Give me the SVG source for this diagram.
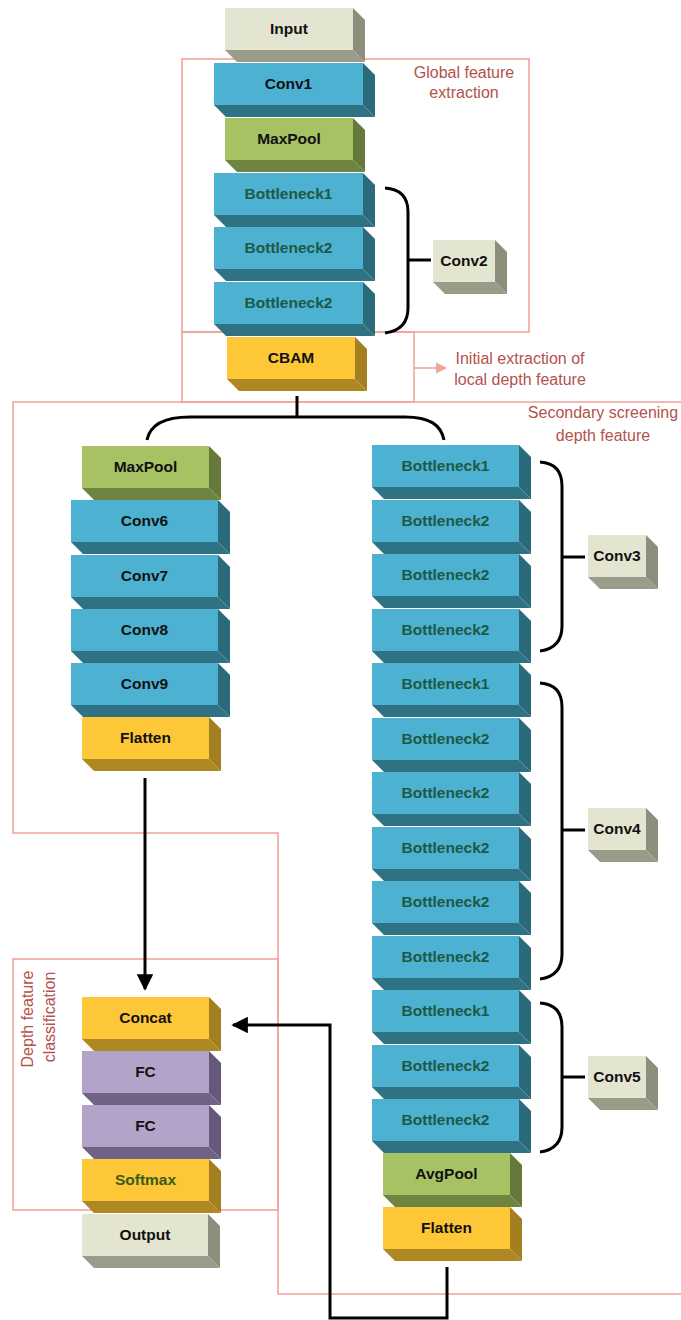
<svg xmlns="http://www.w3.org/2000/svg" width="681" height="1320" viewBox="0 0 681 1320">
<style>
  .blue .f{fill:#4db1d1}.blue .s{fill:#2b6a7b}.blue .b{fill:#2f7283}
  .green .f{fill:#a6c263}.green .s{fill:#66793a}.green .b{fill:#6f8440}
  .yellow .f{fill:#fdc737}.yellow .s{fill:#a47f1f}.yellow .b{fill:#ae8822}
  .beige .f{fill:#e3e5d0}.beige .s{fill:#8d8e7c}.beige .b{fill:#9a9b88}
  .purple .f{fill:#b3a3c8}.purple .s{fill:#66587a}.purple .b{fill:#706284}
  text{font-family:"Liberation Sans",Arial,sans-serif}
  .t{font-size:15.5px;font-weight:bold;text-anchor:middle;fill:#111}
  .tg{font-size:15.5px;font-weight:bold;text-anchor:middle;fill:#1d5a45}
  .ts{font-size:15.5px;font-weight:bold;text-anchor:middle;fill:#3a5a1c}
  .lbl{font-size:16px;text-anchor:middle;fill:#b4524c}
  .pink{fill:none;stroke:#f2a39a;stroke-width:1.6}
  .con{fill:none;stroke:#000;stroke-width:3}
</style>
<defs>
  <marker id="ah" viewBox="0 0 10 10" refX="9" refY="5" markerWidth="5.5" markerHeight="5.5" orient="auto" markerUnits="strokeWidth">
    <path d="M0,0 L10,5 L0,10 z" fill="#000"/>
  </marker>
  <marker id="ahp" viewBox="0 0 10 10" refX="9" refY="5" markerWidth="7" markerHeight="7" orient="auto" markerUnits="strokeWidth">
    <path d="M0,0 L10,5 L0,10 z" fill="#f2a39a"/>
  </marker>
</defs>

<g id="regions">
  <rect class="pink" x="182" y="59" width="347" height="273"/>
  <rect class="pink" x="182" y="332" width="232" height="70"/>
  <path class="pink" d="M683,402 H13 V833 H278 V1294 H683"/>
  <rect class="pink" x="13" y="959" width="265" height="251"/>
  <line x1="414" y1="368" x2="446" y2="368" stroke="#f2a39a" stroke-width="1.6" marker-end="url(#ahp)"/>
  <text class="lbl" x="464" y="78">Global feature</text>
  <text class="lbl" x="464" y="98">extraction</text>
  <text class="lbl" x="520" y="364">Initial extraction of</text>
  <text class="lbl" x="520" y="385">local depth feature</text>
  <text class="lbl" x="603" y="418">Secondary screening</text>
  <text class="lbl" x="603" y="441">depth feature</text>
  <text class="lbl" transform="translate(33,1019) rotate(-90)">Depth feature</text>
  <text class="lbl" transform="translate(55,1017) rotate(-90)">classification</text>
</g>

<g id="connectors">
  <path class="con" d="M297,396 V417"/>
  <path class="con" d="M147,440 C150,425 165,417 190,417 H405 C430,417 441,425 444,440"/>
  <path class="con" d="M145,778 V989" marker-end="url(#ah)"/>
  <path class="con" d="M447,1267 V1318 H330 V1025 H233" marker-end="url(#ah)"/>
  <path class="con" d="M385,188 C400,189 408,197 408,212 V308 C408,323 400,331 385,333 M408,260 H431"/>
  <path class="con" d="M540,462 C555,463 562,471 562,486 V626 C562,641 555,649 540,651 M562,557 H585"/>
  <path class="con" d="M540,683 C555,684 562,692 562,707 V954 C562,969 555,977 540,979 M562,830 H585"/>
  <path class="con" d="M540,1003 C555,1004 562,1012 562,1027 V1127 C562,1142 555,1150 540,1152 M562,1077 H585"/>
</g>

<g id="n-input" class="beige"><rect class="f" x="225" y="8" width="128" height="42"/><polygon class="s" points="353,8 365,20 365,62 353,50"/><polygon class="b" points="225,50 353,50 365,62 237,62"/><text class="t" x="289" y="34">Input</text></g>
<g id="n-conv1" class="blue"><rect class="f" x="214" y="63" width="149" height="42"/><polygon class="s" points="363,63 375,75 375,117 363,105"/><polygon class="b" points="214,105 363,105 375,117 226,117"/><text class="t" x="288.5" y="89">Conv1</text></g>
<g id="n-maxpool1" class="green"><rect class="f" x="225" y="118" width="128" height="42"/><polygon class="s" points="353,118 365,130 365,172 353,160"/><polygon class="b" points="225,160 353,160 365,172 237,172"/><text class="t" x="289" y="144">MaxPool</text></g>
<g id="n-c2b1" class="blue"><rect class="f" x="214" y="173" width="149" height="42"/><polygon class="s" points="363,173 375,185 375,227 363,215"/><polygon class="b" points="214,215 363,215 375,227 226,227"/><text class="tg" x="288.5" y="199">Bottleneck1</text></g>
<g id="n-c2b2" class="blue"><rect class="f" x="214" y="227" width="149" height="42"/><polygon class="s" points="363,227 375,239 375,281 363,269"/><polygon class="b" points="214,269 363,269 375,281 226,281"/><text class="tg" x="288.5" y="253">Bottleneck2</text></g>
<g id="n-c2b3" class="blue"><rect class="f" x="214" y="282" width="149" height="42"/><polygon class="s" points="363,282 375,294 375,336 363,324"/><polygon class="b" points="214,324 363,324 375,336 226,336"/><text class="tg" x="288.5" y="308">Bottleneck2</text></g>
<g id="n-cbam" class="yellow"><rect class="f" x="227" y="337" width="128" height="42"/><polygon class="s" points="355,337 367,349 367,391 355,379"/><polygon class="b" points="227,379 355,379 367,391 239,391"/><text class="t" x="291" y="363">CBAM</text></g>
<g id="n-conv2" class="beige"><rect class="f" x="433" y="240" width="62" height="42"/><polygon class="s" points="495,240 507,252 507,294 495,282"/><polygon class="b" points="433,282 495,282 507,294 445,294"/><text class="t" x="464" y="266">Conv2</text></g>

<g id="n-maxpool2" class="green"><rect class="f" x="82" y="446" width="127" height="42"/><polygon class="s" points="209,446 221,458 221,500 209,488"/><polygon class="b" points="82,488 209,488 221,500 94,500"/><text class="t" x="145.5" y="472">MaxPool</text></g>
<g id="n-conv6" class="blue"><rect class="f" x="71" y="500" width="147" height="42"/><polygon class="s" points="218,500 230,512 230,554 218,542"/><polygon class="b" points="71,542 218,542 230,554 83,554"/><text class="t" x="144.5" y="526">Conv6</text></g>
<g id="n-conv7" class="blue"><rect class="f" x="71" y="555" width="147" height="42"/><polygon class="s" points="218,555 230,567 230,609 218,597"/><polygon class="b" points="71,597 218,597 230,609 83,609"/><text class="t" x="144.5" y="581">Conv7</text></g>
<g id="n-conv8" class="blue"><rect class="f" x="71" y="609" width="147" height="42"/><polygon class="s" points="218,609 230,621 230,663 218,651"/><polygon class="b" points="71,651 218,651 230,663 83,663"/><text class="t" x="144.5" y="635">Conv8</text></g>
<g id="n-conv9" class="blue"><rect class="f" x="71" y="663" width="147" height="42"/><polygon class="s" points="218,663 230,675 230,717 218,705"/><polygon class="b" points="71,705 218,705 230,717 83,717"/><text class="t" x="144.5" y="689">Conv9</text></g>
<g id="n-flatten1" class="yellow"><rect class="f" x="82" y="717" width="127" height="42"/><polygon class="s" points="209,717 221,729 221,771 209,759"/><polygon class="b" points="82,759 209,759 221,771 94,771"/><text class="t" x="145.5" y="743">Flatten</text></g>
<g id="n-concat" class="yellow"><rect class="f" x="82" y="997" width="127" height="42"/><polygon class="s" points="209,997 221,1009 221,1051 209,1039"/><polygon class="b" points="82,1039 209,1039 221,1051 94,1051"/><text class="t" x="145.5" y="1023">Concat</text></g>
<g id="n-fc1" class="purple"><rect class="f" x="82" y="1051" width="127" height="42"/><polygon class="s" points="209,1051 221,1063 221,1105 209,1093"/><polygon class="b" points="82,1093 209,1093 221,1105 94,1105"/><text class="t" x="145.5" y="1077">FC</text></g>
<g id="n-fc2" class="purple"><rect class="f" x="82" y="1105" width="127" height="42"/><polygon class="s" points="209,1105 221,1117 221,1159 209,1147"/><polygon class="b" points="82,1147 209,1147 221,1159 94,1159"/><text class="t" x="145.5" y="1131">FC</text></g>
<g id="n-softmax" class="yellow"><rect class="f" x="82" y="1159" width="127" height="42"/><polygon class="s" points="209,1159 221,1171 221,1213 209,1201"/><polygon class="b" points="82,1201 209,1201 221,1213 94,1213"/><text class="ts" x="145.5" y="1185">Softmax</text></g>
<g id="n-output" class="beige"><rect class="f" x="82" y="1214" width="126" height="42"/><polygon class="s" points="208,1214 220,1226 220,1268 208,1256"/><polygon class="b" points="82,1256 208,1256 220,1268 94,1268"/><text class="t" x="145" y="1240">Output</text></g>

<g id="n-c3b1" class="blue"><rect class="f" x="372" y="445" width="147" height="42"/><polygon class="s" points="519,445 531,457 531,499 519,487"/><polygon class="b" points="372,487 519,487 531,499 384,499"/><text class="tg" x="445.5" y="471">Bottleneck1</text></g>
<g id="n-c3b2" class="blue"><rect class="f" x="372" y="500" width="147" height="42"/><polygon class="s" points="519,500 531,512 531,554 519,542"/><polygon class="b" points="372,542 519,542 531,554 384,554"/><text class="tg" x="445.5" y="526">Bottleneck2</text></g>
<g id="n-c3b3" class="blue"><rect class="f" x="372" y="554" width="147" height="42"/><polygon class="s" points="519,554 531,566 531,608 519,596"/><polygon class="b" points="372,596 519,596 531,608 384,608"/><text class="tg" x="445.5" y="580">Bottleneck2</text></g>
<g id="n-c3b4" class="blue"><rect class="f" x="372" y="609" width="147" height="42"/><polygon class="s" points="519,609 531,621 531,663 519,651"/><polygon class="b" points="372,651 519,651 531,663 384,663"/><text class="tg" x="445.5" y="635">Bottleneck2</text></g>
<g id="n-c4b1" class="blue"><rect class="f" x="372" y="663" width="147" height="42"/><polygon class="s" points="519,663 531,675 531,717 519,705"/><polygon class="b" points="372,705 519,705 531,717 384,717"/><text class="tg" x="445.5" y="689">Bottleneck1</text></g>
<g id="n-c4b2" class="blue"><rect class="f" x="372" y="718" width="147" height="42"/><polygon class="s" points="519,718 531,730 531,772 519,760"/><polygon class="b" points="372,760 519,760 531,772 384,772"/><text class="tg" x="445.5" y="744">Bottleneck2</text></g>
<g id="n-c4b3" class="blue"><rect class="f" x="372" y="772" width="147" height="42"/><polygon class="s" points="519,772 531,784 531,826 519,814"/><polygon class="b" points="372,814 519,814 531,826 384,826"/><text class="tg" x="445.5" y="798">Bottleneck2</text></g>
<g id="n-c4b4" class="blue"><rect class="f" x="372" y="827" width="147" height="42"/><polygon class="s" points="519,827 531,839 531,881 519,869"/><polygon class="b" points="372,869 519,869 531,881 384,881"/><text class="tg" x="445.5" y="853">Bottleneck2</text></g>
<g id="n-c4b5" class="blue"><rect class="f" x="372" y="881" width="147" height="42"/><polygon class="s" points="519,881 531,893 531,935 519,923"/><polygon class="b" points="372,923 519,923 531,935 384,935"/><text class="tg" x="445.5" y="907">Bottleneck2</text></g>
<g id="n-c4b6" class="blue"><rect class="f" x="372" y="936" width="147" height="42"/><polygon class="s" points="519,936 531,948 531,990 519,978"/><polygon class="b" points="372,978 519,978 531,990 384,990"/><text class="tg" x="445.5" y="962">Bottleneck2</text></g>
<g id="n-c5b1" class="blue"><rect class="f" x="372" y="990" width="147" height="42"/><polygon class="s" points="519,990 531,1002 531,1044 519,1032"/><polygon class="b" points="372,1032 519,1032 531,1044 384,1044"/><text class="tg" x="445.5" y="1016">Bottleneck1</text></g>
<g id="n-c5b2" class="blue"><rect class="f" x="372" y="1045" width="147" height="42"/><polygon class="s" points="519,1045 531,1057 531,1099 519,1087"/><polygon class="b" points="372,1087 519,1087 531,1099 384,1099"/><text class="tg" x="445.5" y="1071">Bottleneck2</text></g>
<g id="n-c5b3" class="blue"><rect class="f" x="372" y="1099" width="147" height="42"/><polygon class="s" points="519,1099 531,1111 531,1153 519,1141"/><polygon class="b" points="372,1141 519,1141 531,1153 384,1153"/><text class="tg" x="445.5" y="1125">Bottleneck2</text></g>
<g id="n-avgpool" class="green"><rect class="f" x="383" y="1153" width="127" height="42"/><polygon class="s" points="510,1153 522,1165 522,1207 510,1195"/><polygon class="b" points="383,1195 510,1195 522,1207 395,1207"/><text class="t" x="446.5" y="1179">AvgPool</text></g>
<g id="n-flatten2" class="yellow"><rect class="f" x="383" y="1207" width="127" height="42"/><polygon class="s" points="510,1207 522,1219 522,1261 510,1249"/><polygon class="b" points="383,1249 510,1249 522,1261 395,1261"/><text class="t" x="446.5" y="1233">Flatten</text></g>
<g id="n-conv3" class="beige"><rect class="f" x="588" y="535" width="58" height="42"/><polygon class="s" points="646,535 658,547 658,589 646,577"/><polygon class="b" points="588,577 646,577 658,589 600,589"/><text class="t" x="617" y="561">Conv3</text></g>
<g id="n-conv4" class="beige"><rect class="f" x="588" y="808" width="58" height="42"/><polygon class="s" points="646,808 658,820 658,862 646,850"/><polygon class="b" points="588,850 646,850 658,862 600,862"/><text class="t" x="617" y="834">Conv4</text></g>
<g id="n-conv5" class="beige"><rect class="f" x="588" y="1056" width="58" height="42"/><polygon class="s" points="646,1056 658,1068 658,1110 646,1098"/><polygon class="b" points="588,1098 646,1098 658,1110 600,1110"/><text class="t" x="617" y="1082">Conv5</text></g>
</svg>
